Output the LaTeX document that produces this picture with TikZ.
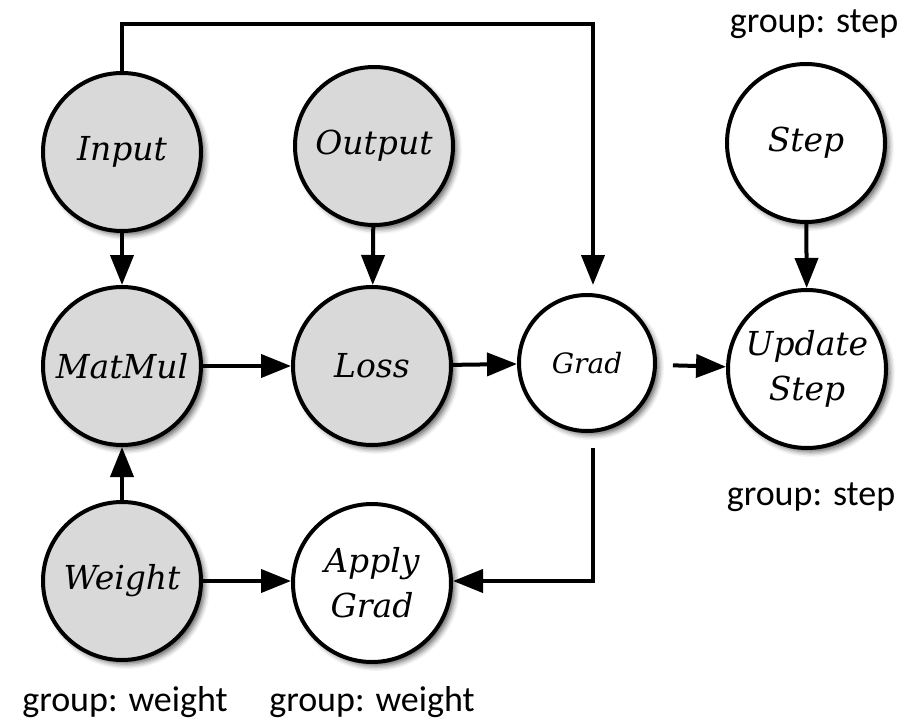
\documentclass[tikz,border=0pt]{standalone}
\usepackage{fontspec}
\setmainfont{Latin Modern Roman}
\newfontfamily\labelfont{Carlito}
\newfontfamily\opfont{DejaVu Serif}
\usetikzlibrary{arrows.meta,shadows.blur,calc}
\definecolor{opgray}{RGB}{217,217,217}

\begin{document}
\begin{tikzpicture}[x=1pt,y=-1pt,
  op/.style={circle, draw=black, line width=4pt, fill=white,
    minimum size=158pt, inner sep=0pt, align=center,
    font=\fontsize{33}{45}\opfont\itshape,
    blur shadow={shadow xshift=4pt, shadow yshift=-4pt,
      shadow blur radius=5pt, shadow opacity=60}},
  data/.style={op, fill=opgray},
  conn/.style={line width=4pt, -{Triangle[length=30pt,width=23pt]}},
  grp/.style={font=\fontsize{36}{43}\labelfont, anchor=base}
]
\useasboundingbox (0,0) rectangle (923,720);

% operation nodes
\node[data] (input)  at (122,152) {Input};
\node[data] (output) at (374,146) {Output};
\node[op]   (step)   at (806,143) {Step};
\node[data] (matmul) at (122,366) {MatMul};
\node[data] (loss)   at (372,366) {Loss};
\node[op, minimum size=136pt, font=\fontsize{28}{36}\opfont\itshape]
            (grad)   at (587,363) {Grad};
\node[op]   (update) at (807,369) {Update\\Step};
\node[data] (weight) at (122,581) {Weight};
\node[op]   (apply)  at (372,583) {Apply\\Grad};

% group labels
\node[grp] (gstepa)   at (814,32)  {group: step};
\node[grp] (gstepb)   at (811,505) {group: step};
\node[grp] (gweighta) at (125,711) {group: weight};
\node[grp] (gweightb) at (372,711) {group: weight};

% routing corners
\coordinate (tr) at (593,24);
\coordinate (br) at (593,581);

% connectors
\draw[conn] (input) -- (matmul);
\draw[conn] (output) -- (loss);
\draw[conn] (step) -- (update);
\draw[conn] (matmul) -- (loss);
\draw[conn] (loss) -- (grad);
\draw[conn, shorten <=16pt] (grad) -- (update);
\draw[conn] (weight) -- (matmul);
\draw[conn] (weight) -- (apply.west |- weight);
\draw[conn, shorten >=8pt] (input.north) |- (tr) -- (tr |- grad.north);
\draw[conn, shorten <=15pt] (tr |- grad.south) -- (br) -- (apply.east |- br);
\end{tikzpicture}
\end{document}
